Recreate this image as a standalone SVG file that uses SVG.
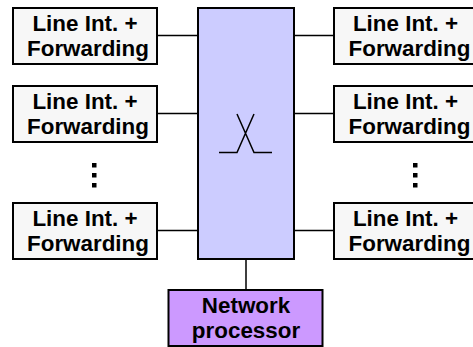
<svg xmlns="http://www.w3.org/2000/svg" width="473" height="347" viewBox="0 0 473 347">
<style>
.b{stroke:#000;stroke-width:2}
.l{fill:#f7f7f7}
.t{font-family:"Liberation Sans",Arial,sans-serif;font-weight:700;font-size:22.4px;text-anchor:middle;fill:#000}
.c{fill:none;stroke:#000;stroke-width:1.500}
</style>
<rect width="473" height="347" fill="#fff"/>
<g id="connectors">
<path class="c" d="M157 35.500H198M157 113.500H198M157 230.500H198M294 35.500H335M294 113.500H335M294 230.500H335M246 259V290"/>
</g>
<g id="switch">
<rect class="b" x="198" y="8" width="96" height="251" fill="#ccf"/>
<path class="c" d="M219 152.500H237L254 114M272 152.500H254L237 114"/>
</g>
<g id="l1"><rect class="b l" x="13" y="8" width="144" height="56"/><text class="t" x="85" y="31">Line Int. +</text><text class="t" x="88" y="56">Forwarding</text></g>
<g id="l2"><rect class="b l" x="13" y="86" width="144" height="56"/><text class="t" x="85" y="109">Line Int. +</text><text class="t" x="88" y="134">Forwarding</text></g>
<g id="l3"><rect class="b l" x="13" y="203" width="144" height="56"/><text class="t" x="85" y="226">Line Int. +</text><text class="t" x="88" y="251">Forwarding</text></g>
<g id="r1"><rect class="b l" x="334" y="8" width="142" height="56"/><text class="t" x="405.500" y="31">Line Int. +</text><text class="t" x="409.500" y="56">Forwarding</text></g>
<g id="r2"><rect class="b l" x="334" y="86" width="142" height="56"/><text class="t" x="405.500" y="109">Line Int. +</text><text class="t" x="409.500" y="134">Forwarding</text></g>
<g id="r3"><rect class="b l" x="334" y="203" width="142" height="56"/><text class="t" x="405.500" y="226">Line Int. +</text><text class="t" x="409.500" y="251">Forwarding</text></g>
<g id="network-processor"><rect class="b" x="168.500" y="290" width="154" height="56" fill="#c9f"/><text class="t" x="246" y="313">Network</text><text class="t" x="246" y="338">processor</text></g>
<g id="dots"><path d="M92 163h4.500v4.500h-4.500zM92 173h4.500v4.500h-4.500zM92 183h4.500v4.500h-4.500zM413 163h4.500v4.500h-4.500zM413 173h4.500v4.500h-4.500zM413 183h4.500v4.500h-4.500z"/></g>
</svg>
